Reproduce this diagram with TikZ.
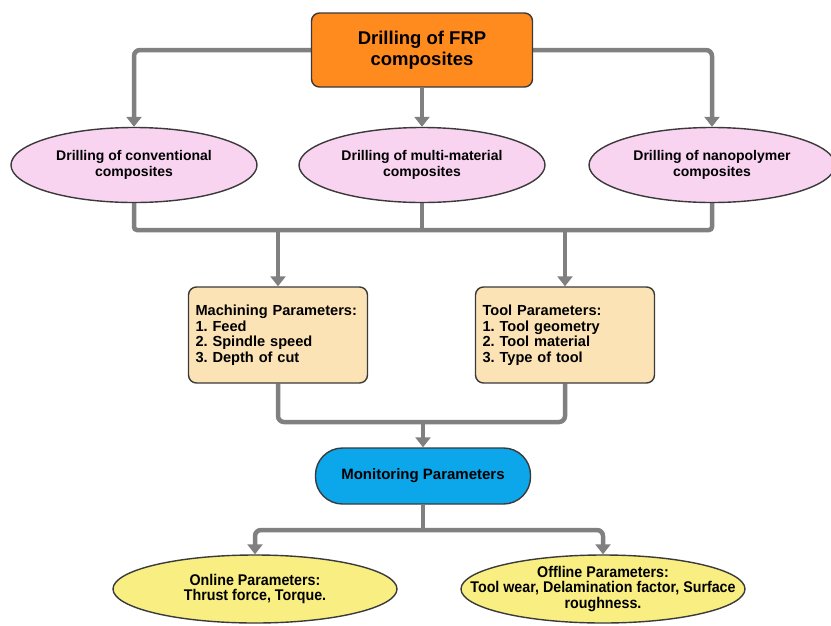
\documentclass[tikz,border=0pt]{standalone}
\usepackage{fontspec}
\setmainfont{Liberation Sans}
\newfontfamily\narrowfont[FakeStretch=0.92]{Liberation Sans}
\usetikzlibrary{shapes.geometric,arrows.meta,backgrounds}
\frenchspacing
\hyphenpenalty=10000

\definecolor{linegray}{HTML}{808080}
\definecolor{edgegray}{HTML}{3A3A3A}
\definecolor{frporange}{HTML}{FF8A1E}
\definecolor{drillpink}{HTML}{F8D4F1}
\definecolor{parampeach}{HTML}{FCE3B6}
\definecolor{monblue}{HTML}{0BA7EA}
\definecolor{outyellow}{HTML}{F8EE82}

\tikzset{
  conn/.style={draw=linegray, line width=4.5pt, rounded corners=6pt},
  arr/.style={-{Triangle[length=10pt,width=15pt]}},
  base/.style={draw=edgegray, line width=1.4pt, inner sep=0pt, align=center},
  topbox/.style={base, fill=frporange, rounded corners=8pt,
    minimum width=221pt, minimum height=74pt,
    font=\fontsize{18.5}{21}\selectfont\bfseries},
  drill/.style={base, ellipse, fill=drillpink,
    minimum width=246pt, minimum height=75pt,
    font=\fontsize{14}{16.5}\selectfont\bfseries},
  parambox/.style={base, fill=parampeach, rounded corners=8pt, align=left,
    text width=165pt, inner xsep=7pt,
    minimum width=179pt, minimum height=96pt,
    font=\fontsize{14.6}{15.5}\selectfont\bfseries},
  monbox/.style={base, fill=monblue, rounded corners=27pt,
    minimum width=215pt, minimum height=56pt,
    font=\fontsize{15}{17}\selectfont\bfseries},
  outpar/.style={base, ellipse, fill=outyellow, inner xsep=-45pt,
    minimum width=284pt, minimum height=68pt,
    font=\narrowfont\fontsize{15.5}{15.5}\selectfont\bfseries}
}

\begin{document}
\begin{tikzpicture}[x=1pt,y=-1pt]
  \useasboundingbox (0,0) rectangle (831,625);

  \node[topbox] (top) at (422,50) {Drilling of FRP\\composites};

  \node[drill] (conv) at (134,165) {Drilling of conventional\\composites};
  \node[drill] (multi) at (422,165) {Drilling of multi-material\\composites};
  \node[drill] (nano) at (712,165) {Drilling of nanopolymer\\composites};

  \node[parambox] (mach) at (278,335) {Machining Parameters:\\1. Feed\\2. Spindle speed\\3. Depth of cut};
  \node[parambox] (tool) at (565,335) {Tool Parameters:\\1. Tool geometry\\2. Tool material\\3. Type of tool};

  \node[monbox] (mon) at (423,476) {Monitoring Parameters};

  \node[outpar] (online) at (255,589) {Online Parameters:\\Thrust force, Torque.};
  \node[outpar] (offline) at (603,589) {Offline Parameters:\\Tool wear, Delamination factor, Surface\\roughness.};

  \begin{scope}[on background layer]
    % top level
    \draw[conn,arr] (top.west) -| (conv.north);
    \draw[conn,arr] (top) -- (multi);
    \draw[conn,arr] (top.east) -| (nano.north);

    % drilling -> parameters
    \draw[conn,rounded corners=3pt] (conv.south) -- (conv.south |- 0,230) -- (nano.south |- 0,230) -- (nano.south);
    \draw[conn] (multi) -- (multi.south |- 0,230);
    \draw[conn,arr] (mach.north |- 0,230) -- (mach);
    \draw[conn,arr] (tool.north |- 0,230) -- (tool);

    % parameters -> monitoring
    \draw[conn] (mach) |- (mon.north |- 0,422) -| (tool);
    \draw[conn,arr] (mon.north |- 0,422) -- (mon);

    % monitoring -> outputs
    \draw[conn] (mon) -- (mon.south |- 0,530);
    \draw[conn,arr] (mon.south |- 0,530) -| (online);
    \draw[conn,arr] (mon.south |- 0,530) -| (offline);
  \end{scope}
\end{tikzpicture}
\end{document}
